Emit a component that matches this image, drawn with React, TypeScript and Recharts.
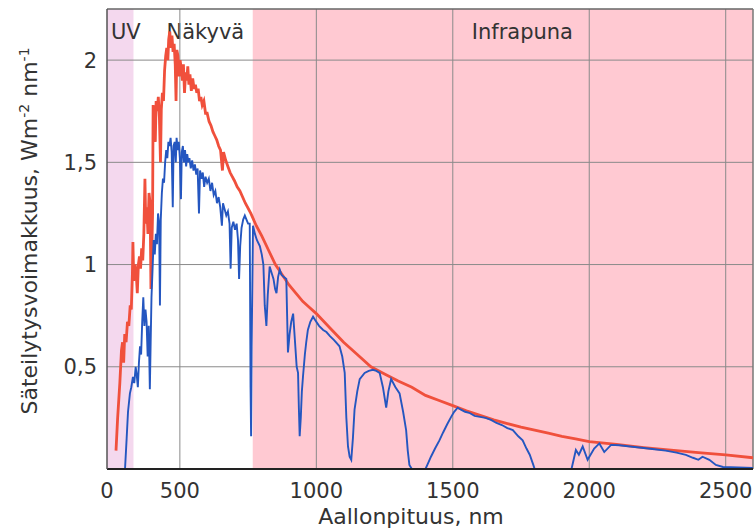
import { LineChart, Line, XAxis, YAxis, ReferenceArea, ReferenceLine, Label } from 'recharts';

// wavelength ranges of the coloured bands (nm)
const UV_RANGE = [233, 330];
const VISIBLE_RANGE = [330, 767];
const IR_RANGE = [767, 2600];

const X_TICKS = [233, 500, 1000, 1500, 2000, 2500];
const X_TICK_LABELS = ['0', '500', '1000', '1500', '2000', '2500'];
const X_GRID = [500, 1000, 1500, 2000, 2500];
const Y_TICKS = [0.5, 1, 1.5, 2];

// [wavelength nm, W m-2 nm-1]
const outsideAtmosphere: [number, number][] = [
  [266, 0.09], [272, 0.25], [280, 0.42], [286, 0.58], [290, 0.62], [294, 0.52], [298, 0.66], [303, 0.62],
  [308, 0.72], [313, 0.7], [318, 0.8], [322, 0.78], [326, 0.95], [328, 1.11], [331, 0.92], [336, 1.0],
  [340, 0.96], [344, 0.86], [348, 1.0], [352, 1.04], [356, 0.98], [360, 1.08], [364, 1.02], [368, 1.15],
  [372, 1.42], [375, 1.2], [379, 1.28], [383, 1.15], [387, 1.35], [391, 1.3], [394, 0.88], [397, 1.05],
  [400, 1.25], [402, 1.78], [406, 1.7], [410, 1.6], [413, 1.8], [417, 1.75], [421, 1.82], [425, 1.72],
  [429, 1.5], [432, 1.76], [436, 1.84], [440, 1.8], [444, 1.95], [448, 2.02], [452, 2.06], [456, 2.0],
  [459, 2.1], [463, 2.14], [467, 2.06], [471, 2.12], [475, 2.04], [479, 2.08], [483, 1.98], [486, 1.8],
  [489, 2.05], [493, 2.02], [497, 1.92], [501, 2.0], [505, 1.96], [509, 1.9], [513, 1.98], [517, 1.84],
  [521, 1.94], [525, 1.9], [529, 1.97], [533, 1.88], [537, 1.93], [542, 1.85], [547, 1.91], [552, 1.86],
  [557, 1.88], [562, 1.84], [567, 1.86], [572, 1.8], [577, 1.82], [582, 1.78], [588, 1.8], [594, 1.74],
  [600, 1.74], [607, 1.7], [614, 1.68], [621, 1.65], [628, 1.63], [635, 1.61], [642, 1.58], [649, 1.56],
  [656, 1.46], [660, 1.55], [668, 1.51], [676, 1.48], [684, 1.45], [692, 1.43], [700, 1.41], [710, 1.38],
  [720, 1.36], [740, 1.3], [760, 1.25], [780, 1.19], [800, 1.14], [825, 1.07], [850, 1.0], [875, 0.95],
  [900, 0.9], [925, 0.86], [950, 0.82], [975, 0.79], [1000, 0.76], [1050, 0.69], [1100, 0.62], [1150, 0.56],
  [1200, 0.5], [1250, 0.465], [1300, 0.43], [1350, 0.4], [1400, 0.36], [1450, 0.335], [1500, 0.31],
  [1550, 0.285], [1600, 0.262], [1650, 0.24], [1700, 0.222], [1750, 0.205], [1800, 0.19], [1850, 0.175],
  [1900, 0.16], [1950, 0.147], [2000, 0.134], [2100, 0.12], [2200, 0.105], [2300, 0.092], [2400, 0.08],
  [2500, 0.069], [2600, 0.055],
];

const atGround: [number, number][] = [
  [299, 0.0], [305, 0.15], [310, 0.28], [317, 0.37], [322, 0.4], [328, 0.45], [333, 0.42], [338, 0.5],
  [342, 0.46], [346, 0.4], [350, 0.52], [354, 0.6], [358, 0.56], [362, 0.72], [366, 0.84], [370, 0.7],
  [374, 0.78], [378, 0.72], [382, 0.55], [386, 0.7], [390, 0.39], [393, 0.62], [396, 0.84], [400, 0.98],
  [404, 1.12], [408, 1.05], [412, 1.15], [416, 1.1], [420, 1.25], [424, 1.2], [427, 0.8], [430, 1.22],
  [434, 1.35], [438, 1.42], [442, 1.4], [446, 1.5], [450, 1.56], [454, 1.52], [458, 1.6], [462, 1.58],
  [466, 1.62], [470, 1.55], [474, 1.28], [477, 1.58], [481, 1.6], [485, 1.5], [488, 1.62], [492, 1.56],
  [496, 1.6], [500, 1.52], [504, 1.32], [507, 1.55], [511, 1.58], [515, 1.5], [519, 1.56], [523, 1.48],
  [527, 1.54], [531, 1.5], [535, 1.52], [540, 1.47], [545, 1.51], [550, 1.46], [555, 1.49], [560, 1.44],
  [565, 1.47], [570, 1.25], [574, 1.46], [579, 1.42], [584, 1.45], [589, 1.38], [594, 1.43], [600, 1.4],
  [606, 1.42], [612, 1.36], [618, 1.4], [624, 1.34], [630, 1.36], [636, 1.3], [642, 1.33], [648, 1.28],
  [654, 1.19], [658, 1.3], [664, 1.27], [670, 1.24], [676, 1.26], [682, 1.2], [686, 0.98], [690, 1.18],
  [696, 1.21], [702, 1.17], [708, 1.2], [713, 1.12], [717, 0.93], [721, 1.09], [726, 1.18], [732, 1.22],
  [738, 1.24], [744, 1.22], [750, 1.2], [756, 1.2], [759, 0.4], [761, 0.16], [763, 0.6], [768, 1.19],
  [775, 1.15], [782, 1.12], [793, 1.09], [800, 1.05], [806, 1.0], [811, 0.8], [817, 0.7], [822, 0.85],
  [829, 0.99], [836, 0.96], [843, 0.93], [849, 0.88], [854, 0.86], [860, 0.94], [866, 0.975], [872, 0.95],
  [880, 0.94], [890, 0.93], [893, 0.75], [896, 0.57], [902, 0.66], [908, 0.72], [915, 0.76], [922, 0.62],
  [928, 0.5], [933, 0.47], [936, 0.3], [939, 0.16], [943, 0.25], [947, 0.38], [951, 0.45], [958, 0.56],
  [963, 0.62], [969, 0.68], [978, 0.72], [988, 0.745], [995, 0.73], [1010, 0.7], [1025, 0.68], [1037, 0.67],
  [1050, 0.65], [1065, 0.63], [1085, 0.6], [1095, 0.55], [1104, 0.47], [1110, 0.25], [1116, 0.11],
  [1122, 0.06], [1128, 0.045], [1134, 0.15], [1140, 0.29], [1150, 0.38], [1159, 0.44], [1177, 0.47],
  [1192, 0.48], [1207, 0.485], [1220, 0.48], [1232, 0.47], [1244, 0.4], [1256, 0.3], [1264, 0.38],
  [1274, 0.44], [1290, 0.4], [1305, 0.37], [1318, 0.28], [1329, 0.19], [1335, 0.09], [1341, 0.02],
  [1350, 0.0], [1400, 0.0], [1410, 0.03], [1420, 0.06], [1435, 0.1], [1451, 0.14], [1465, 0.18],
  [1480, 0.22], [1494, 0.255], [1505, 0.28], [1518, 0.3], [1530, 0.29], [1545, 0.28], [1560, 0.275],
  [1580, 0.26], [1600, 0.255], [1620, 0.25], [1640, 0.24], [1660, 0.225], [1680, 0.215], [1700, 0.2],
  [1720, 0.19], [1740, 0.16], [1756, 0.14], [1770, 0.1], [1782, 0.07], [1795, 0.02], [1800, 0.0],
  [1935, 0.0], [1951, 0.093], [1962, 0.07], [1976, 0.11], [1994, 0.045], [2018, 0.1], [2037, 0.125],
  [2055, 0.083], [2080, 0.118], [2110, 0.116], [2150, 0.11], [2200, 0.103], [2231, 0.098], [2280, 0.09],
  [2320, 0.08], [2354, 0.069], [2380, 0.055], [2400, 0.045], [2415, 0.06], [2440, 0.045], [2464, 0.02],
  [2490, 0.01], [2600, 0.005],
];

const FONT = '"DejaVu Sans", Arial, sans-serif';
const TEXT = '#333';

const toPoints = (rows: [number, number][]) => rows.map(([nm, v]) => ({ nm, v }));

const regionLabel = (text: string, dx: number) => (props: any) => {
  const { x, y } = props.viewBox;
  return (
    <text x={x + dx} y={y + 30} fontSize={21} fill={TEXT} fontFamily={FONT}>
      {text}
    </text>
  );
};

const YTitle = (props: any) => {
  const { x, y, height } = props.viewBox;
  return (
    <text
      transform={`translate(${x + 37}, ${y + height / 2 - 8}) rotate(-90)`}
      textAnchor="middle"
      fontSize={22}
      fill={TEXT}
      fontFamily={FONT}
    >
      Säteilytysvoimakkuus, Wm
      <tspan dy={-8} fontSize={14}>-2</tspan>
      <tspan dy={8}> nm</tspan>
      <tspan dy={-8} fontSize={14}>-1</tspan>
    </text>
  );
};

const XTitle = (props: any) => {
  const { x, y, width } = props.viewBox;
  return (
    <text x={x + width / 2 - 19} y={y + 55} textAnchor="middle" fontSize={22} fill={TEXT} fontFamily={FONT}>
      Aallonpituus, nm
    </text>
  );
};

export default function App() {
  return (
    <div style={{ position: 'absolute', left: 0, top: 0, width: 754, height: 531, background: '#fff' }}>
      <LineChart width={754} height={531} margin={{ top: 9, right: 1, bottom: 0, left: 0 }} style={{ fontFamily: FONT }}>
        <XAxis
          dataKey="nm"
          type="number"
          domain={[UV_RANGE[0], IR_RANGE[1]]}
          ticks={X_TICKS}
          interval={0}
          allowDataOverflow
          tickFormatter={(v: number) => X_TICK_LABELS[X_TICKS.indexOf(v)] ?? String(v)}
          height={62}
          tickLine={false}
          tickSize={6}
          tickMargin={8}
          tick={{ fontSize: 21, fill: TEXT }}
          axisLine={{ stroke: '#222', strokeWidth: 2 }}
        >
          <Label content={XTitle} />
        </XAxis>
        <YAxis
          type="number"
          domain={[0, 2.25]}
          ticks={Y_TICKS}
          interval={0}
          allowDataOverflow
          tickFormatter={(v: number) => String(v).replace('.', ',')}
          width={107}
          tickLine={false}
          tickSize={6}
          tickMargin={4}
          tick={{ fontSize: 21, fill: TEXT }}
          axisLine={{ stroke: '#555', strokeWidth: 1.5 }}
        >
          <Label content={YTitle} />
        </YAxis>

        <ReferenceArea x1={UV_RANGE[0]} x2={UV_RANGE[1]} fill="#f4d8ee" fillOpacity={1} stroke="none" label={regionLabel('UV', 4)} />
        <ReferenceArea x1={VISIBLE_RANGE[0]} x2={VISIBLE_RANGE[1]} fill="#ffffff" fillOpacity={0} stroke="none" label={regionLabel('Näkyvä', 33)} />
        <ReferenceArea x1={IR_RANGE[0]} x2={IR_RANGE[1]} fill="#ffc9d2" fillOpacity={1} stroke="none" label={regionLabel('Infrapuna', 219)} />

        {X_GRID.map((t) => (
          <ReferenceLine key={`gx${t}`} x={t} stroke="#8a8a8a" strokeWidth={1} />
        ))}
        {Y_TICKS.map((t) => (
          <ReferenceLine key={`gy${t}`} y={t} stroke="#8a8a8a" strokeWidth={1} />
        ))}
        <ReferenceLine y={2.25} stroke="#666" strokeWidth={1.5} />
        <ReferenceLine x={IR_RANGE[1]} stroke="#777" strokeWidth={1.5} />

        <Line
          data={toPoints(outsideAtmosphere)}
          dataKey="v"
          type="linear"
          stroke="#f0503c"
          strokeWidth={2.8}
          dot={false}
          activeDot={false}
          isAnimationActive={false}
        />
        <Line
          data={toPoints(atGround)}
          dataKey="v"
          type="linear"
          stroke="#2456c0"
          strokeWidth={1.9}
          dot={false}
          activeDot={false}
          isAnimationActive={false}
        />
      </LineChart>
    </div>
  );
}
